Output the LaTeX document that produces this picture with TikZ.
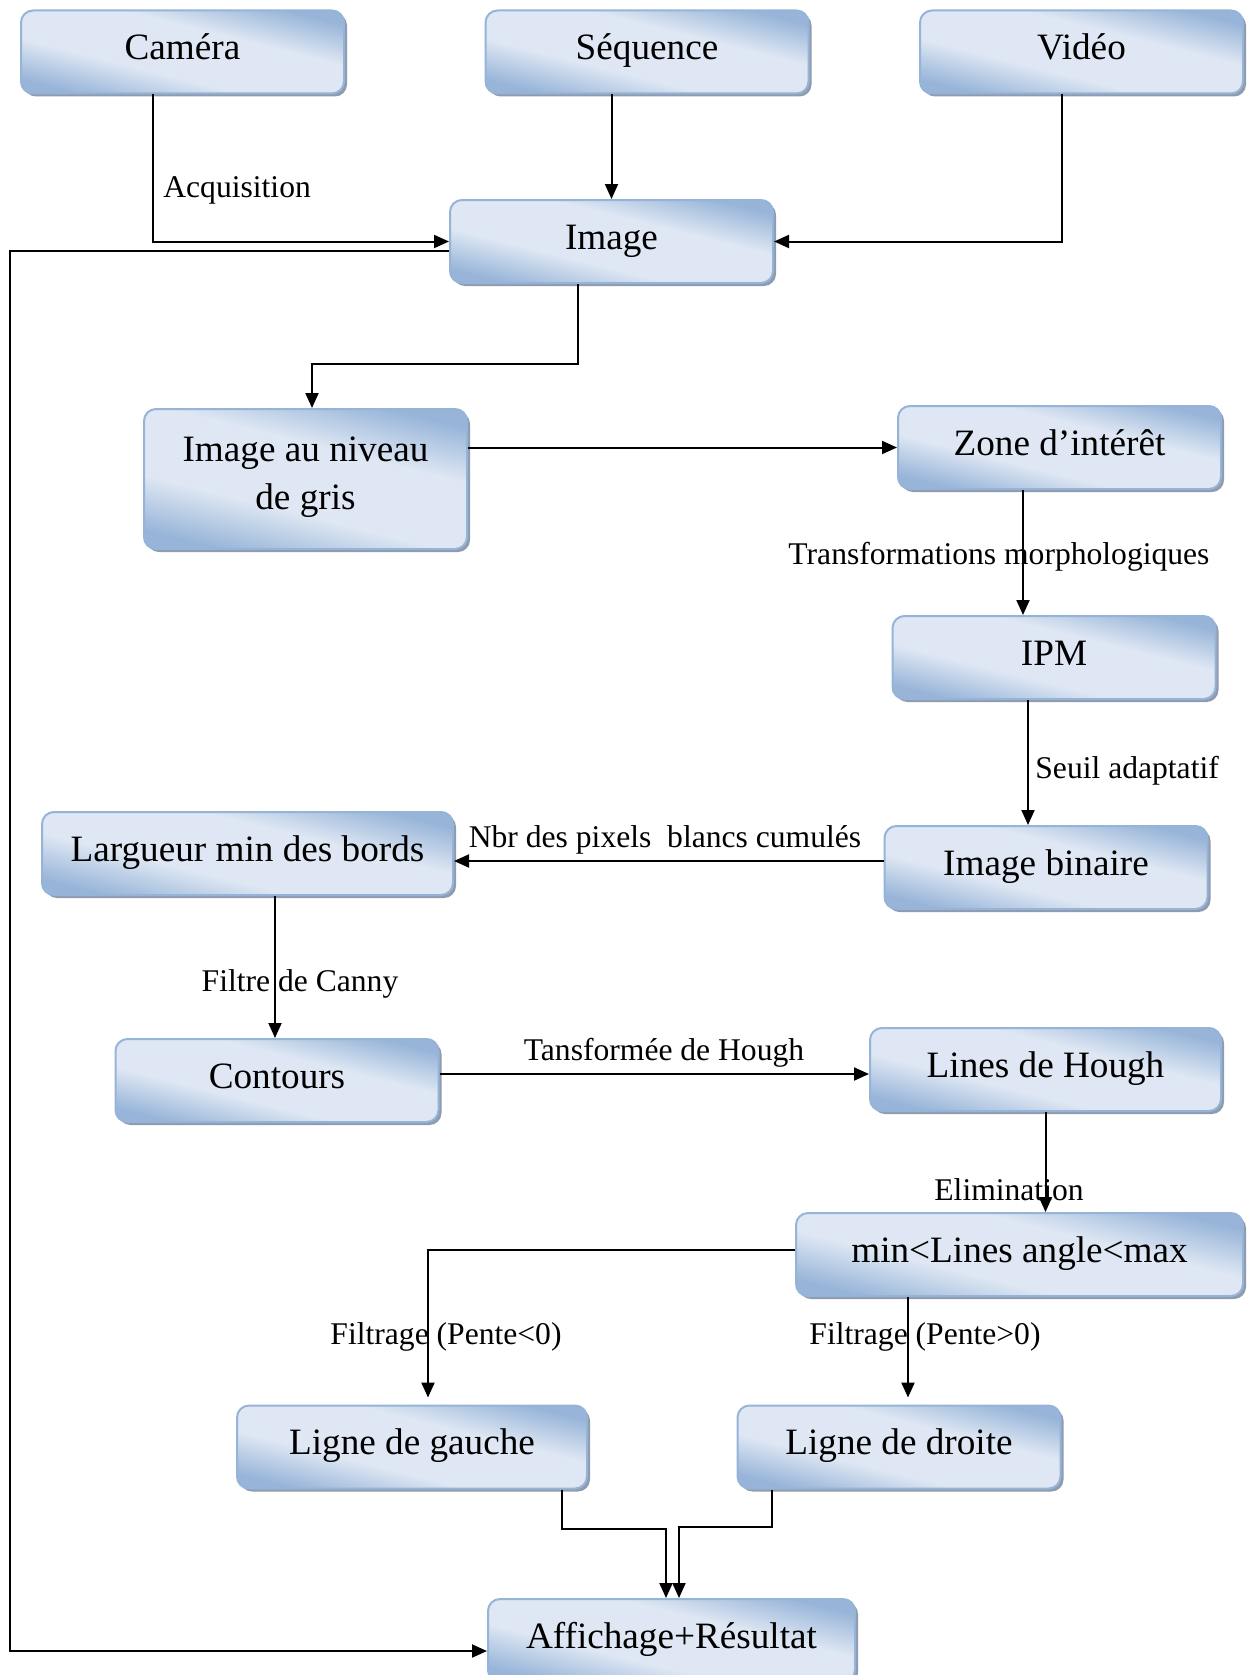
\documentclass[tikz,border=0pt]{standalone}
\usepackage{fontspec}
\setmainfont{Liberation Serif}
\usepackage{xcolor}
\definecolor{boxlight}{RGB}{222,231,243}
\definecolor{boxdark}{RGB}{152,181,217}
\definecolor{boxline}{RGB}{150,180,215}
\definecolor{boxshade}{RGB}{115,130,155}
\usepackage{tikz}
\usetikzlibrary{arrows.meta,positioning,shadows,calc}
\pgfdeclareverticalshading{boxshading}{100bp}{color(0bp)=(boxdark); color(25bp)=(boxdark);%
  color(40bp)=(boxlight); color(60bp)=(boxlight); color(75bp)=(boxdark); color(100bp)=(boxdark)}
\tikzset{
  stage/.style={draw=boxline,line width=1pt,rounded corners=6pt,%
    shade,shading=boxshading,shading angle=-14,%
    drop shadow={shadow xshift=1.5pt,shadow yshift=-1.5pt,fill=boxshade,opacity=.8},%
    font=\fontsize{18.6}{24}\selectfont,inner sep=2pt,align=center,%
    text height=14pt,text depth=6.4pt,%
    minimum width=161.5pt,minimum height=41.5pt},
  note/.style={font=\fontsize{15.8}{19}\selectfont,inner sep=1pt},
  flow/.style={-{Triangle[length=7.5pt,width=6.5pt]},line width=1pt,draw=black},
}

\begin{document}
\begin{tikzpicture}[x=0.5pt,y=-0.5pt]
\useasboundingbox (0,0) rectangle (1247,1675);
% sources
\node[stage] (cam) at (182.5,52) {Caméra};
\node[stage] (seq) at (647,52) {Séquence};
\node[stage] (vid) at (1081.5,52) {Vidéo};
\node[stage] (img) at (611.5,241.5) {Image};
% traitement
\node[stage,minimum height=70pt,text height=38pt,text depth=7.2pt] (gris) at (305.5,479) {Image au niveau\\de gris};
\node[stage] (zone) at (1059.5,447.5) {Zone d’intérêt};
\node[stage] (ipm) at (1054,657.5) {IPM};
\node[stage] (bin) at (1046,867.5) {Image binaire};
\node[stage,minimum width=205.5pt] (larg) at (247.5,853.5) {Largueur min des bords};
\node[stage] (cont) at (277,1080.5) {Contours};
\node[stage,minimum width=175.5pt] (hough) at (1045.5,1069.5) {Lines de Hough};
\node[stage,minimum width=223.5pt] (angle) at (1019.5,1254.5) {min<Lines angle<max};
\node[stage,minimum width=175pt] (gauche) at (412,1447) {Ligne de gauche};
\node[stage] (droite) at (899,1447) {Ligne de droite};
\node[stage,minimum width=183.5pt] (aff) at (671.5,1640.5) {Affichage+Résultat};
\coordinate (back) at (10,1651);
% liaisons
\draw[flow] ([xshift=-14.75pt]cam.south) |- (img.west);
\draw[flow] (seq.south -| img.north) -- (img.north);
\draw[flow] ([xshift=-9.75pt]vid.south) |- (img.east);
\draw[flow] ([yshift=-4.75pt]img.west) -| (back) -- (back -| aff.west);
\draw[flow] ([xshift=-16.75pt]img.south) -- ++(0,80) -| ([xshift=3.25pt]gris.north);
\draw[flow] (gris.east |- zone.west) -- (zone.west);
\draw[flow] ([xshift=-18.25pt]zone.south) -- ([xshift=-18.25pt]zone.south |- ipm.north);
\draw[flow] ([xshift=-13pt]ipm.south) -- ([xshift=-13pt]ipm.south |- bin.north);
\draw[flow] ([yshift=3.25pt]bin.west) -- ([yshift=3.25pt]bin.west -| larg.east);
\draw[flow] ([xshift=13.75pt]larg.south) -- ([xshift=13.75pt]larg.south |- cont.north);
\draw[flow] ([yshift=3.25pt]cont.east) -- ([yshift=3.25pt]cont.east -| hough.west);
\draw[flow] (hough.south) -- (hough.south |- angle.north);
\draw[flow] ([yshift=2.25pt]angle.west) -| ([xshift=8pt,yshift=3.5pt]gauche.north);
\draw[flow] ([xshift=4.5pt]droite.north |- angle.south) -- ([xshift=4.5pt,yshift=3.5pt]droite.north);
\draw[flow] ([xshift=75pt]gauche.south) -- ++(0,39) -| ([xshift=-2.75pt]aff.north);
\draw[flow] ([xshift=-63.5pt]droite.south) -- ++(0,37) -| ([xshift=3.75pt]aff.north);
% etiquettes
\node[note,anchor=west] (acq) at (161,190) {Acquisition};
\node[note] (morph) at (999,557) {Transformations morphologiques};
\node[note,anchor=west] (seuil) at (1033,771) {Seuil adaptatif};
\node[note] (nbr) at (665,840) {Nbr des pixels~ blancs cumulés};
\node[note] (canny) at (300,984) {Filtre de Canny};
\node[note] (though) at (664,1053) {Tansformée de Hough};
\node[note] (elim) at (1009,1190) {Elimination};
\node[note] (neg) at (446,1337) {Filtrage (Pente<0)};
\node[note] (pos) at (925,1337) {Filtrage (Pente>0)};
\end{tikzpicture}
\end{document}
